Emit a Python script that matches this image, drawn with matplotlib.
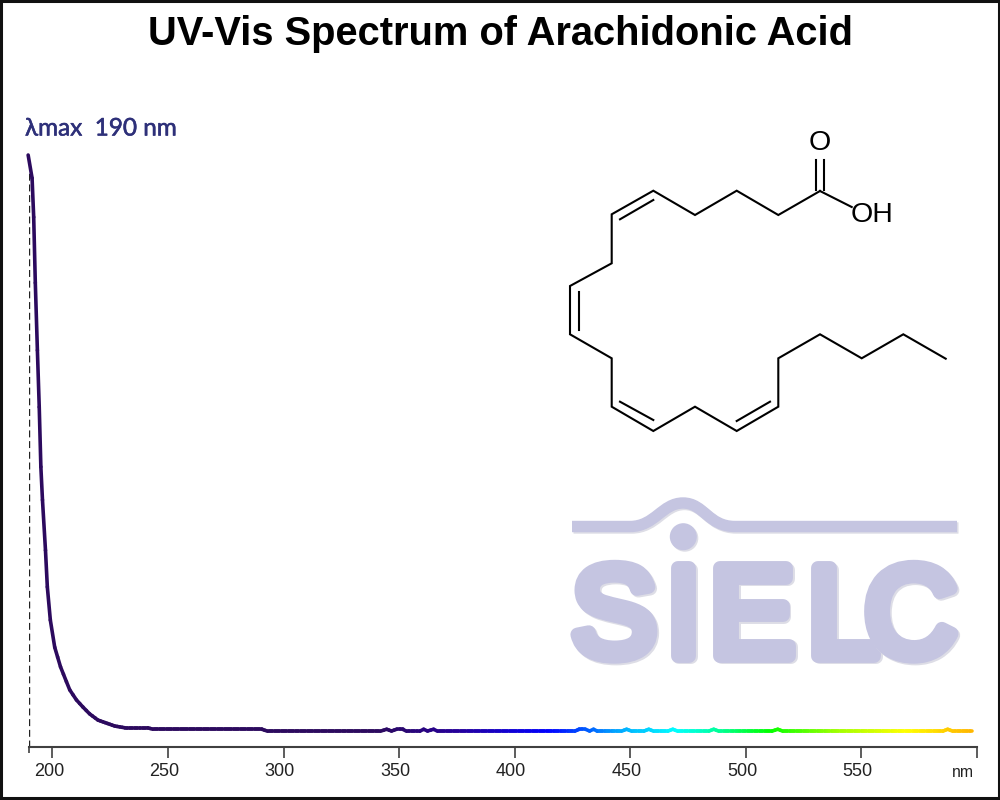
import numpy as np
from matplotlib import pyplot as plt
from matplotlib import patheffects as pe
from matplotlib.collections import LineCollection
from matplotlib.colors import LinearSegmentedColormap, to_rgb
from matplotlib.patches import Circle, PathPatch, Rectangle
from matplotlib.path import Path
from matplotlib.transforms import ScaledTranslation

plt.rcParams['font.family'] = ['Liberation Sans', 'DejaVu Sans']

# spectrum
wavelengths = [189.5, 191.2, 191.9, 192.6, 193.5, 194.3, 195.0, 195.7, 197.0, 197.8,
               199.1, 201.0, 203.5, 206.05, 207.5, 210.4, 213.2, 216.1, 219.7, 226.9,
               231.3, 241.2, 243.4, 290.5, 293.1, 341.9, 344.6, 346.7, 348.9, 351.5,
               353.2, 358.9, 360.6, 362.3, 364.9, 366.6, 425.9, 428.0, 430.6, 432.4,
               434.1, 435.8, 446.2, 448.4, 450.6, 455.8, 458.0, 460.1, 466.2, 468.4,
               470.5, 483.9, 486.1, 488.3, 511.2, 513.8, 516.0, 585.2, 587.3, 589.5,
               598.0]
absorbance = [1.000, 0.961, 0.895, 0.784, 0.670, 0.574, 0.473, 0.417, 0.332, 0.270,
              0.214, 0.168, 0.135, 0.110, 0.096, 0.079, 0.067, 0.0555, 0.045, 0.035,
              0.032, 0.032, 0.0296, 0.0296, 0.0262, 0.0262, 0.0295, 0.0265, 0.0295, 0.0295,
              0.0262, 0.0262, 0.0295, 0.0265, 0.0295, 0.0262, 0.0262, 0.0295, 0.0295, 0.0265,
              0.0295, 0.0262, 0.0262, 0.0295, 0.0262, 0.0262, 0.0295, 0.0262, 0.0262, 0.0295,
              0.0262, 0.0262, 0.0295, 0.0262, 0.0262, 0.0295, 0.0262, 0.0262, 0.0295, 0.0262,
              0.0262]

tick_values = [200, 250, 300, 350, 400, 450, 500, 550, 600]
tick_labels = ['200', '250', '300', '350', '400', '450', '500', '550', '']

# colour along the line
color_nm = [190, 340, 375, 415, 445, 470, 490, 510, 540, 570, 590, 600]
color_hex = ['#2c0a5e', '#2c0a5e', '#26009a', '#0000ff', '#00a8ff', '#00ffff',
             '#00ff90', '#00ff00', '#a0ff00', '#ffff00', '#ffc800', '#ffb400']

# structure drawing, in image pixels
chain = [(820, 191), (778.3, 215), (736.7, 190.7), (695, 215), (653.3, 190.7), (611.7, 214.3),
         (611.7, 263.3), (570, 286), (570, 334.3), (611.7, 358.3), (611.7, 406.7), (653.3, 431),
         (695, 406.7), (736.7, 431), (778.3, 406.7), (778.3, 358.3), (820, 334.3), (861.7, 358.3),
         (903.3, 334.3), (945.7, 358.7)]
inner_bonds = [[(620, 219.3), (653.3, 200)], [(579, 291.7), (579, 330)],
               [(620, 401.7), (653.3, 420)], [(736.7, 421), (770, 401.7)]]
acid_bonds = [[(815.7, 190), (815.7, 160)], [(824, 190), (824, 160)], [(820, 191), (851.7, 207)]]

logo_color = '#c5c5e1'
shadow_color = '#dddde6'
logo_letters = ['S', 'I', 'E', 'L', 'C']
logo_x = [614, 683.5, 752, 843, 910.5]
logo_size = [91.5, 91.5, 91.5, 91.5, 91.5]

fig = plt.figure(figsize=(10, 8), dpi=100)

# overlay in image pixels for the drawing, the logo and the frame
bg = fig.add_axes([0, 0, 1, 1])
bg.set_xlim(0, 1000)
bg.set_ylim(800, 0)
bg.axis('off')

xs, ys = zip(*chain)
bg.plot(xs, ys, color='black', lw=1.5, solid_joinstyle='miter')
for bond in inner_bonds + acid_bonds:
    xs, ys = zip(*bond)
    bg.plot(xs, ys, color='black', lw=1.5)
bg.text(819.5, 143.5, 'O', fontsize=20.5, ha='center', va='center')
bg.text(872, 215.5, 'OH', fontsize=20.5, ha='center', va='center')

# logo
wave = Path([(572, 526.5), (630, 526.5), (655, 526.5), (662, 503), (683, 503),
             (704, 503), (708, 526.5), (735, 526.5), (957, 526.5)],
            [Path.MOVETO, Path.LINETO, Path.CURVE4, Path.CURVE4, Path.CURVE4,
             Path.CURVE4, Path.CURVE4, Path.CURVE4, Path.LINETO])
for off, col in [(1.5, shadow_color), (0, logo_color)]:
    moved = Path(wave.vertices + off, wave.codes)
    bg.add_patch(PathPatch(moved, fc='none', ec=col, lw=8.2, capstyle='butt'))
    bg.add_patch(Circle((683.3 + off, 536.7 + off), 13.5, fc=col, ec='none'))
for letter, x, size in zip(logo_letters, logo_x, logo_size):
    bg.text(x, 609.5, letter, fontsize=size, color=logo_color,
            ha='center', va='center_baseline',
            path_effects=[pe.Stroke(linewidth=10, foreground=shadow_color, offset=(1.2, -1.2)),
                          pe.Stroke(linewidth=10, foreground=logo_color),
                          pe.Normal()])

bg.add_patch(Rectangle((1, 1), 998, 797, fc='none', ec='#111111', lw=2.2))

# chart axes: 190 sits at x=29.3, 600 at x=977, baseline at y=746.7
ax = fig.add_axes([0.0293, 53.3 / 800, 0.9477, 646.7 / 800])
ax.patch.set_alpha(0)
ax.set_xlim(190, 600)
ax.set_ylim(0, 1.093)

# subdivide each piece only so the colour can change smoothly along it
cmap = LinearSegmentedColormap.from_list(
    'spec', [((n - 190) / 410, to_rgb(c)) for n, c in zip(color_nm, color_hex)])
segs = []
seg_cols = []
for i in range(len(wavelengths) - 1):
    n = max(1, int(wavelengths[i + 1] - wavelengths[i]))
    px = np.linspace(wavelengths[i], wavelengths[i + 1], n + 1)
    py = np.linspace(absorbance[i], absorbance[i + 1], n + 1)
    for j in range(n):
        segs.append([(px[j], py[j]), (px[j + 1], py[j + 1])])
        seg_cols.append(cmap((max(px[j], 190) - 190) / 410))
ax.add_collection(LineCollection(segs, colors=seg_cols, linewidths=2.6, capstyle='round',
                                 clip_on=False, zorder=3))

ax.plot([190, 190], [0, 0.97], color='#222222', lw=1, linestyle=(0, (5, 2.7)), zorder=2)

for side in ['top', 'left', 'right']:
    ax.spines[side].set_visible(False)
ax.spines['bottom'].set_color('#404040')
ax.spines['bottom'].set_linewidth(1.5)
ax.set_yticks([])
ax.set_xticks(tick_values)
ax.set_xticklabels(tick_labels, fontsize=13, color='#222222')
ax.set_xticks([190], minor=True)
ax.tick_params(axis='x', which='major', length=8, width=1.1, color='#303030', pad=4)
ax.tick_params(axis='x', which='minor', length=4, width=1.1, color='#303030')
shift = ScaledTranslation(-3.6 / 100, 0, fig.dpi_scale_trans)
for lab in ax.get_xticklabels():
    lab.set_transform(lab.get_transform() + shift)

bg.text(962.5, 772.5, 'nm', fontsize=11.3, color='#222222', ha='center', va='center')
bg.text(500, 34, 'UV-Vis Spectrum of Arachidonic Acid', fontsize=28.75, fontweight='bold',
        ha='center', va='center')
bg.text(25, 129, 'λmax  190 nm', fontsize=17.5, color='#2e3079', ha='left', va='center',
        family=['Lato', 'DejaVu Sans'],
        path_effects=[pe.withStroke(linewidth=0.4, foreground='#2e3079')])

fig.savefig('out.png', dpi=100)
